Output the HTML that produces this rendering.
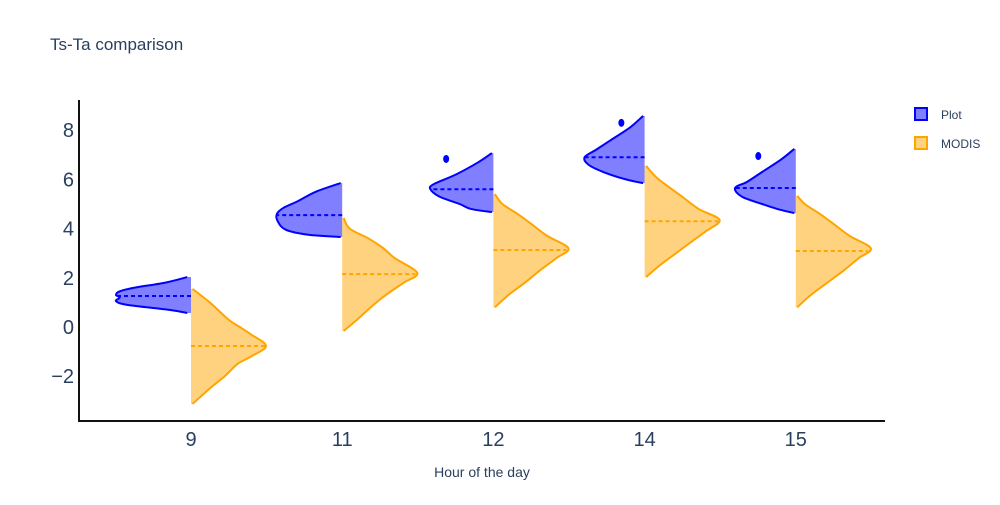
<!DOCTYPE html>
<html><head><meta charset="utf-8"><style>
body{margin:0;background:#fff;font-family:"Liberation Sans",Arial,sans-serif}
svg text{font-family:"Liberation Sans",Arial,sans-serif;fill:#2a3f5f}
</style></head><body>
<svg id="c" width="1000" height="500">
<text x="50" y="50" font-size="17">Ts-Ta comparison</text>
<g id="plot"></g>
<line x1="79" y1="100" x2="79" y2="421" stroke="#111" stroke-width="2"/>
<line x1="78" y1="421" x2="885" y2="421" stroke="#111" stroke-width="2"/>
<text x="482" y="477" font-size="14" text-anchor="middle">Hour of the day</text>
<g>
<g><rect x="915" y="108" width="12" height="12" fill="rgba(0,0,255,0.5)" stroke="#00f" stroke-width="2"/><text x="941" y="119" font-size="12">Plot</text></g>
<g><rect x="915" y="137" width="12" height="12" fill="rgba(255,165,0,0.5)" stroke="orange" stroke-width="2"/><text x="941" y="148" font-size="12">MODIS</text></g>
</g>
</svg>
<script>
const categories=["9","11","12","14","15"];
const yTicks=[-2,0,2,4,6,8];
const plotMedians=[1.26,4.55,5.6,6.9,5.65];
const modisMedians=[-0.77,2.15,3.13,4.3,3.09];
const plotOutliers=[null,null,6.83,8.3,6.95];
const outlierJitter=[0,0,-0.63,-0.31,-0.5];
const plotDensity=[
 [[0.57,0.05],[0.7,0.3],[0.9,0.85],[1.05,1],[1.2,0.95],[1.3,1],[1.45,0.95],[1.6,0.75],[1.8,0.35],[2.03,0.05]],
 [[3.66,0.02],[3.75,0.45],[3.95,0.75],[4.3,0.86],[4.6,0.87],[4.85,0.78],[5.1,0.6],[5.5,0.35],[5.85,0.02]],
 [[4.67,0.02],[4.8,0.3],[5.0,0.45],[5.3,0.72],[5.6,0.84],[5.8,0.8],[6.2,0.5],[6.7,0.2],[7.07,0.02]],
 [[5.85,0.02],[6.0,0.25],[6.3,0.55],[6.6,0.75],[6.9,0.8],[7.2,0.65],[7.6,0.45],[8.1,0.2],[8.58,0.02]],
 [[4.63,0.02],[4.8,0.25],[5.0,0.45],[5.3,0.72],[5.65,0.81],[5.9,0.65],[6.3,0.45],[6.8,0.2],[7.24,0.02]]
];
const modisDensity=[
 [[-3.13,0.02],[-2.5,0.25],[-2.0,0.45],[-1.5,0.62],[-1.2,0.8],[-0.77,1],[-0.3,0.8],[0,0.65],[0.3,0.5],[1.0,0.25],[1.55,0.02]],
 [[-0.16,0.02],[0.3,0.2],[0.8,0.38],[1.3,0.58],[1.8,0.82],[2.2,1.0],[2.8,0.7],[3.2,0.55],[3.6,0.35],[4.0,0.1],[4.43,0.02]],
 [[0.8,0.02],[1.3,0.2],[1.8,0.42],[2.3,0.62],[2.8,0.84],[3.2,1.0],[3.7,0.72],[4.2,0.5],[4.6,0.32],[5.0,0.12],[5.4,0.02]],
 [[2.03,0.02],[2.5,0.2],[3.0,0.42],[3.5,0.64],[3.9,0.82],[4.35,1.0],[4.8,0.72],[5.3,0.5],[5.7,0.32],[6.1,0.15],[6.55,0.02]],
 [[0.8,0.02],[1.3,0.2],[1.8,0.42],[2.3,0.64],[2.8,0.84],[3.2,1.0],[3.7,0.72],[4.2,0.5],[4.6,0.32],[5.0,0.12],[5.33,0.02]]
];
const NS="http://www.w3.org/2000/svg";
const svg=document.getElementById('plot');
const yS=v=>327-v*24.6;
const xS=i=>191+i*151.2;
const W=75;
function mk(t,a,p){const e=document.createElementNS(NS,t);for(const k in a)e.setAttribute(k,a[k]);(p||svg).appendChild(e);return e;}
yTicks.forEach(t=>{const e=mk('text',{x:74,y:yS(t)+7,'font-size':20,'text-anchor':'end'});


e.textContent=t<0?'\u2212'+(-t):t;});
categories.forEach((c,i)=>{const e=mk('text',{x:xS(i),y:446,'font-size':20,'text-anchor':'middle'});


e.textContent=c;});
function smooth(pts){let d='';for(let i=0;i<pts.length-1;i++){const p0=pts[i-1]||pts[i],p1=pts[i],p2=pts[i+1],p3=pts[i+2]||p2;
const c1=[p1[0]+(p2[0]-p0[0])/6,p1[1]+(p2[1]-p0[1])/6],c2=[p2[0]-(p3[0]-p1[0])/6,p2[1]-(p3[1]-p1[1])/6];
d+=` C${c1[0]},${c1[1]} ${c2[0]},${c2[1]} ${p2[0]},${p2[1]}`;}return d;}
function violin(i,dens,med,side,stroke,fill,name){
const cx=xS(i),s=side;
const pts=dens.map(p=>[cx+s*p[1]*W,yS(p[0])]);
const d=`M${cx},${pts[0][1]} L${pts[0][0]},${pts[0][1]}`+smooth(pts)+` L${cx},${pts[pts.length-1][1]} Z`;
const g=mk('g',{});


mk('path',{d,fill,stroke:'none'},g);
mk('path',{d:`M${pts[0][0]},${pts[0][1]}`+smooth(pts),fill:'none',stroke,'stroke-width':2},g);
let mw=0;for(let k=0;k<dens.length-1;k++){const a=dens[k],b=dens[k+1];if(med>=a[0]&&med<=b[0]){mw=a[1]+(b[1]-a[1])*(med-a[0])/(b[0]-a[0]);}}
mk('line',{x1:cx,x2:cx+s*mw*W,y1:yS(med),y2:yS(med),stroke,'stroke-width':2,'stroke-dasharray':'4,3'},g);
}
categories.forEach((c,i)=>{
violin(i,plotDensity[i],plotMedians[i],-1,'#0000ff','rgba(0,0,255,0.5)','plot');
violin(i,modisDensity[i],modisMedians[i],1,'orange','rgba(255,165,0,0.5)','modis');
if(plotOutliers[i]!==null){const e=mk('ellipse',{cx:xS(i)+outlierJitter[i]*W,cy:yS(plotOutliers[i]),rx:3,ry:4,fill:'#00f'});

}
});
</script>
</body></html>
